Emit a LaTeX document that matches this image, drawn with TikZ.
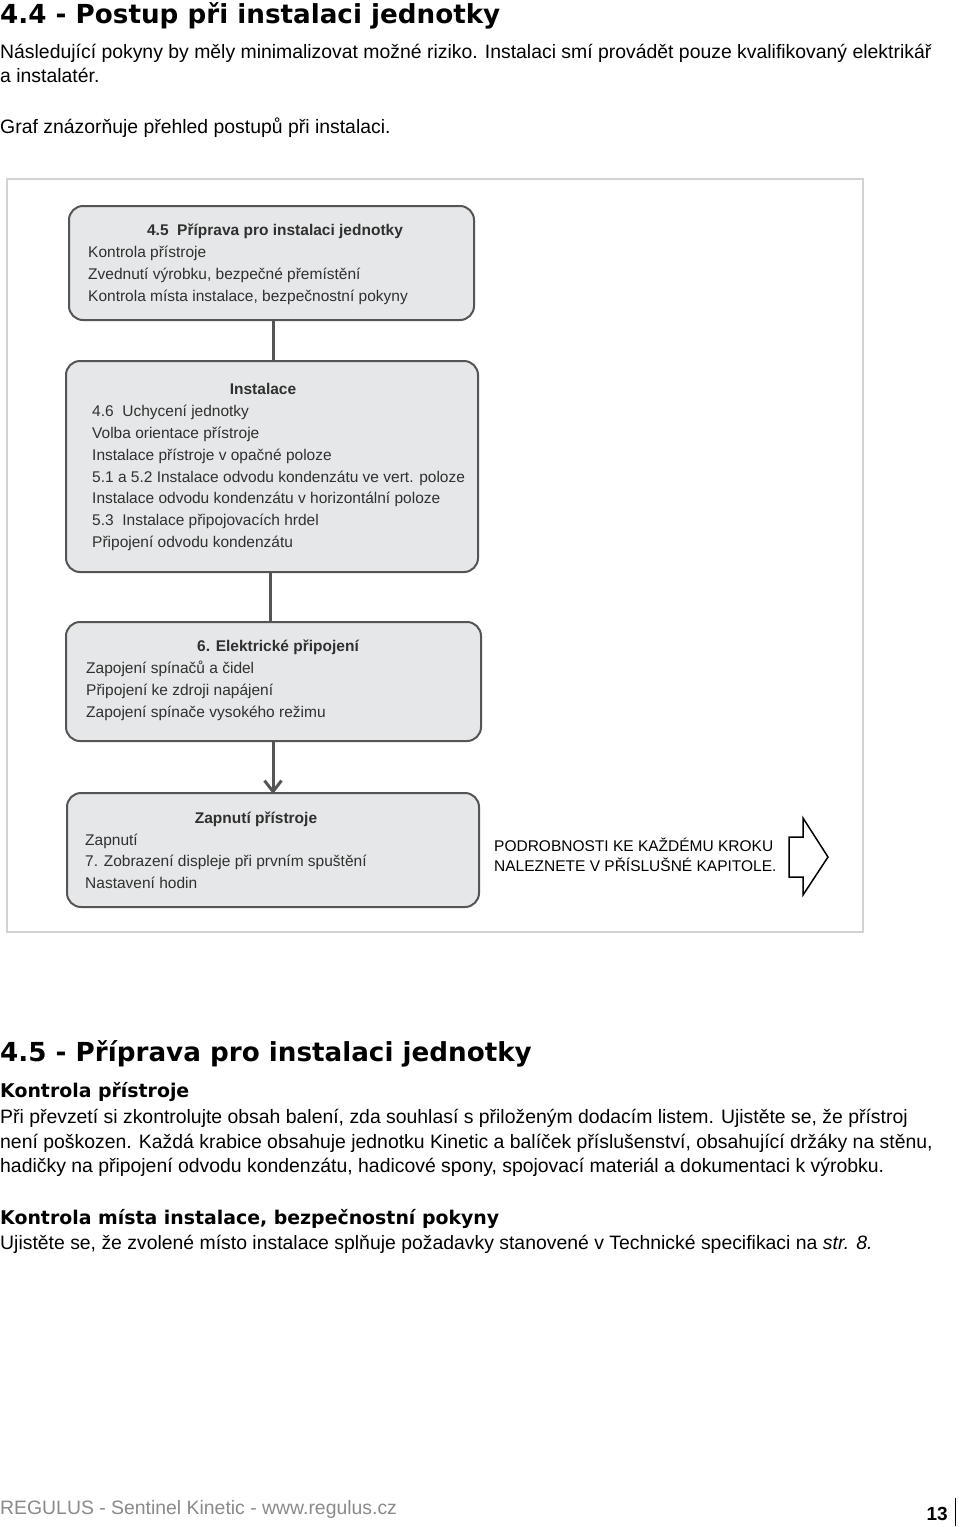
\documentclass[tikz,border=0pt]{standalone}
\usepackage{fontspec}
\setmainfont{Liberation Sans}
\newfontfamily\hfont{DejaVu Sans}
\usetikzlibrary{arrows.meta}
\definecolor{boxfill}{HTML}{E6E7E8}
\definecolor{boxline}{HTML}{555555}
\definecolor{framegray}{HTML}{D2D2D2}
\definecolor{textgray}{HTML}{303030}
\definecolor{footgray}{HTML}{8A8A8A}
\begin{document}
\begin{tikzpicture}[x=1pt,y=-1pt,
  body/.style={anchor=base west, inner sep=0, font=\fontsize{19.4}{23}\selectfont},
  head/.style={anchor=base west, inner sep=0, font=\hfont\bfseries\fontsize{26.2}{30}\selectfont},
  sub/.style={anchor=base west, inner sep=0, font=\hfont\bfseries\fontsize{18.9}{22}\selectfont},
  stepbox/.style={draw=boxline, fill=boxfill, line width=2pt, rounded corners=14pt, inner sep=0},
  txt/.style={anchor=base west, inner sep=0, text=textgray, font=\fontsize{15.5}{18}\selectfont},
  ttl/.style={anchor=base, inner sep=0, text=textgray, font=\bfseries\fontsize{15.5}{18}\selectfont},
  conn/.style={draw=boxline, line width=3pt},
  note/.style={anchor=base west, inner sep=0, font=\fontsize{15.5}{18}\selectfont}
]
\useasboundingbox[fill=white] (0,0) rectangle (960,1527);

% header
\node[head] (h1) at (0,23) {4.4 - Postup při instalaci jednotky};
\node[body] (p1) at (0,58) {Následující pokyny by měly minimalizovat možné riziko. Instalaci smí provádět pouze kvalifikovaný elektrikář};
\node[body] (p2) at (0,82) {a instalatér.};
\node[body] (p3) at (0,133) {Graf znázorňuje přehled postupů při instalaci.};

% frame
\node[draw=framegray, line width=1.5pt, minimum width=856pt, minimum height=753pt, inner sep=0] (frame) at (435,555.5) {};

% boxes
\node[stepbox, minimum width=405pt, minimum height=114pt] (b1) at (271.5,263) {};
\node[stepbox, minimum width=412pt, minimum height=211pt] (b2) at (272,466.5) {};
\node[stepbox, minimum width=415pt, minimum height=119pt] (b3) at (273.5,681.5) {};
\node[stepbox, minimum width=412pt, minimum height=114pt] (b4) at (273,850) {};

% box 1 text
\node[ttl] (t1) at (275,235.5) {4.5\ \ Příprava pro instalaci jednotky};
\node[txt] (l11) at (88,257.5) {Kontrola přístroje};
\node[txt] (l12) at (88,279.5) {Zvednutí výrobku, bezpečné přemístění};
\node[txt] (l13) at (88,301.5) {Kontrola místa instalace, bezpečnostní pokyny};

% box 2 text
\node[ttl] (t2) at (263,394.5) {Instalace};
\node[txt] (l21) at (92,416.5) {4.6\ \ Uchycení jednotky};
\node[txt] (l22) at (92,438.5) {Volba orientace přístroje};
\node[txt] (l23) at (92,460.5) {Instalace přístroje v opačné poloze};
\node[txt] (l24) at (92,482.5) {5.1 a 5.2 Instalace odvodu kondenzátu ve vert. poloze};
\node[txt] (l25) at (92,503.5) {Instalace odvodu kondenzátu v horizontální poloze};
\node[txt] (l26) at (92,525.5) {5.3\ \ Instalace připojovacích hrdel};
\node[txt] (l27) at (92,547.5) {Připojení odvodu kondenzátu};

% box 3 text
\node[ttl] (t3) at (278,651.5) {6. Elektrické připojení};
\node[txt] (l31) at (86,673.5) {Zapojení spínačů a čidel};
\node[txt] (l32) at (86,695.5) {Připojení ke zdroji napájení};
\node[txt] (l33) at (86,717.5) {Zapojení spínače vysokého režimu};

% box 4 text
\node[ttl] (t4) at (256,823.5) {Zapnutí přístroje};
\node[txt] (l41) at (85,845.5) {Zapnutí};
\node[txt] (l42) at (85,866.5) {7. Zobrazení displeje při prvním spuštění};
\node[txt] (l43) at (85,888.5) {Nastavení hodin};

% connectors
\coordinate (c1) at (273,0);
\draw[conn] (c1 |- b1.south) -- (c1 |- b2.north);
\coordinate (c2) at (270,0);
\draw[conn] (c2 |- b2.south) -- (c2 |- b3.north);
\coordinate (c3) at (273,0);
\draw[conn, -{Straight Barb[length=11pt,width=17pt,line width=3pt]}] (c3 |- b3.south) -- ([yshift=-2pt]c3 |- b4.north);

% note and outline arrow
\node[note] (n1) at (494,851.5) {PODROBNOSTI KE KAŽDÉMU KROKU};
\node[note] (n2) at (494,871.5) {NALEZNETE V PŘÍSLUŠNÉ KAPITOLE.};
\draw[line width=1.5pt, line join=miter] (789,837) -- (803,837) -- (803,818) -- (828,857) -- (803,895) -- (803,877) -- (789,877) -- cycle;

% section 4.5
\node[head] (h2) at (0,1061.5) {4.5 - Příprava pro instalaci jednotky};
\node[sub] (s1) at (0,1097) {Kontrola přístroje};
\node[body] (q1) at (0,1123) {Při převzetí si zkontrolujte obsah balení, zda souhlasí s přiloženým dodacím listem. Ujistěte se, že přístroj};
\node[body] (q2) at (0,1148) {není poškozen. Každá krabice obsahuje jednotku Kinetic a balíček příslušenství, obsahující držáky na stěnu,};
\node[body] (q3) at (0,1172) {hadičky na připojení odvodu kondenzátu, hadicové spony, spojovací materiál a dokumentaci k výrobku.};
\node[sub] (s2) at (0,1224) {Kontrola místa instalace, bezpečnostní pokyny};
\node[body] (q4) at (0,1249) {Ujistěte se, že zvolené místo instalace splňuje požadavky stanovené v Technické specifikaci na \textit{str. 8.}};

% footer
\node[anchor=base west, inner sep=0, text=footgray, font=\fontsize{19.4}{22}\selectfont] (f1) at (0,1514) {REGULUS - Sentinel Kinetic - www.regulus.cz};
\node[anchor=base east, inner sep=0, font=\bfseries\fontsize{19}{22}\selectfont] (f2) at (948,1520) {13};
\draw[line width=1pt] (955,1498) -- (955,1526);
\end{tikzpicture}
\end{document}
